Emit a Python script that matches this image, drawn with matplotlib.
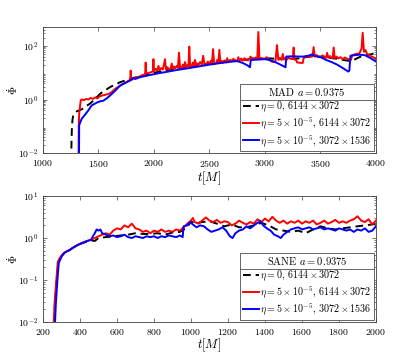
import matplotlib
matplotlib.use("Agg")
import matplotlib.pyplot as plt
from matplotlib.lines import Line2D

plt.rcParams['font.family'] = ['cmr10', 'DejaVu Serif']
plt.rcParams['mathtext.fontset'] = 'cm'
plt.rcParams['axes.formatter.use_mathtext'] = True
plt.rcParams['axes.unicode_minus'] = False

# ---- MAD a=0.9375 ----
mad_t_black = [1254, 1257, 1261, 1266, 1273, 1290, 1303, 1330, 1363, 1393, 1423, 1453, 1483, 1513,
               1543, 1574, 1604, 1650, 1694, 1740, 1784, 1850, 1920, 2000, 2100, 2200, 2300, 2400,
               2500, 2600, 2700, 2800, 2900, 3000, 3100, 3200, 3300, 3400, 3500, 3600, 3650, 3700,
               3750, 3800, 3850, 3900, 3950, 3980, 4000]
mad_v_black = [0.005, 0.03, 0.1, 0.18, 0.26, 0.33, 0.36, 0.4, 0.46, 0.58, 0.7, 0.9, 1.2, 1.6,
               2.0, 2.4, 2.9, 3.6, 4.4, 5.1, 5.8, 7.0, 8.5, 10, 12, 14.5, 17, 19.5,
               22, 25, 28, 30, 33, 35, 33, 32, 34, 40, 40, 35, 33, 30,
               28, 30, 38, 45, 48, 52, 60]

mad_t_red = [1320, 1322, 1326, 1330, 1340, 1350, 1370, 1390, 1410, 1430, 1450, 1470, 1490, 1510,
             1530, 1560, 1590, 1620, 1650, 1680, 1710, 1740, 1770, 1785, 1790, 1795, 1820, 1850,
             1880, 1910, 1920, 1925, 1930, 1960, 1990, 1995,
             2000, 2015, 2030, 2040, 2050, 2065, 2080, 2099, 2108, 2120, 2135, 2150, 2160, 2170,
             2180, 2190, 2205, 2215, 2225, 2235, 2250, 2260, 2270, 2280, 2290, 2300, 2310, 2318,
             2326, 2340, 2350, 2360, 2370, 2380, 2390, 2400, 2415, 2430, 2443, 2455, 2470, 2485,
             2500, 2512, 2522, 2532, 2542, 2560, 2570, 2580, 2589, 2598, 2610, 2620, 2635, 2650,
             2660, 2670, 2685, 2700, 2715, 2730, 2750, 2760, 2770, 2785, 2800, 2815, 2830, 2850,
             2870, 2880, 2890, 2900, 2915, 2930, 2940, 2950, 2960,
             3000, 3015, 3030, 3060, 3080, 3095, 3108, 3120, 3135, 3150, 3160, 3170, 3185, 3200,
             3215, 3230, 3250, 3258, 3266, 3280, 3290, 3340, 3348, 3370, 3400, 3415, 3428, 3438,
             3448, 3465, 3480, 3500, 3520, 3550, 3560, 3570, 3585, 3600, 3610, 3619, 3628, 3645,
             3660, 3680, 3700, 3720, 3750, 3775, 3785, 3820, 3850, 3870, 3880, 3892, 3905, 3920,
             3950, 3975, 4000]
mad_v_red = [0.005, 0.1, 0.3, 0.4, 0.95, 1.0, 0.95, 1.05, 1.0, 1.15, 1.05, 1.2, 1.1, 1.3,
             1.4, 1.5, 1.6, 1.9, 2.5, 3.0, 3.6, 4.2, 5.0, 5.3, 12, 5.5, 6.2, 6.8,
             7.5, 8.5, 9.0, 24, 9.2, 10, 11, 32,
             11.5, 14, 12, 18, 12.5, 15, 13, 32, 13, 16, 13.5, 14, 22, 14,
             17, 14.5, 18, 15, 56, 15.5, 15, 20, 16, 25, 16, 19, 17, 94,
             17, 18, 24, 18, 30, 18.5, 22, 19, 25, 20, 43, 20, 20.5, 26,
             21, 28, 22, 76, 22, 22.5, 30, 23, 71, 23, 28, 23, 29, 24,
             35, 24.5, 30, 26, 33, 27, 27, 38, 27.5, 34, 28, 35, 29, 29,
             40, 30, 36, 31, 37, 32, 330, 36, 35,
             33, 38, 32, 26, 25, 28, 107, 30, 36, 30, 50, 31, 36, 31,
             38, 33, 32, 87, 31, 30, 24, 23, 35, 42, 38, 45, 40, 90,
             40, 46, 38, 38, 44, 36, 55, 36, 42, 35, 36, 87, 35, 40,
             34, 38, 32, 37, 32, 30, 45, 50, 52, 80, 310, 60, 70, 50,
             42, 38, 32]

mad_t_blue = [1324, 1326, 1348, 1378, 1408, 1438, 1483, 1513, 1543, 1574, 1604, 1649, 1694, 1754,
              1800, 1814, 1830, 1874, 1964, 2039, 2100, 2200, 2300, 2400, 2500, 2600, 2700, 2750,
              2800, 2840, 2865, 2872, 2950, 3000, 3050, 3100, 3150, 3185, 3192, 3250, 3300, 3350,
              3400, 3420, 3450, 3500, 3550, 3600, 3650, 3700, 3750, 3760, 3770, 3850, 3900, 3950,
              4000]
mad_v_blue = [0.005, 0.11, 0.19, 0.27, 0.39, 0.6, 0.76, 0.85, 0.9, 1.1, 1.4, 2.1, 3.3, 4.4,
              5.5, 6.5, 5.8, 6.8, 8.2, 9.5, 10.5, 12.5, 14.5, 17, 20, 23, 26, 27,
              23, 19, 16, 30, 31, 32, 29, 24, 19, 16, 40, 41, 40, 40,
              44, 48, 42, 38, 30, 25, 20, 15, 11, 12, 43, 47, 45, 35,
              26]

# ---- SANE a=0.9375 ----
sane_t_black = [257, 265, 275, 283, 290, 300, 315, 330, 345, 360, 380, 400, 420, 440, 460, 480,
                500, 540, 580, 620, 660, 700, 740, 780, 820, 860, 900, 940, 980, 1000, 1020, 1060,
                1100, 1140, 1180, 1220, 1260, 1300, 1340, 1380, 1420, 1460, 1500, 1540, 1580, 1620,
                1660, 1700, 1740, 1780, 1820, 1860, 1900, 1940, 1980, 2000]
sane_v_black = [0.005, 0.03, 0.1, 0.25, 0.3, 0.37, 0.44, 0.48, 0.52, 0.58, 0.65, 0.72, 0.78, 0.82, 0.88, 0.85,
                1.0, 1.05, 1.1, 1.15, 1.2, 1.3, 1.25, 1.25, 1.3, 1.2, 1.35, 1.4, 1.8, 2.5, 2.2, 2.4,
                2.5, 2.2, 1.9, 2.1, 1.8, 1.8, 2.0, 2.3, 2.0, 1.6, 1.5, 1.4, 1.5, 1.3,
                1.6, 1.9, 1.7, 1.6, 1.7, 1.8, 1.9, 2.0, 2.1, 2.2]

sane_t_red = [255, 263, 272, 280, 288, 300, 315, 330, 345, 360, 380, 400, 420, 440, 460, 480,
              500, 520, 540, 560, 580, 600, 620, 640, 660, 680, 700, 720, 740, 760, 780, 800,
              820, 840, 860, 880, 900, 920, 940, 960, 980, 1000, 1010, 1020, 1040, 1060, 1080, 1100,
              1120, 1140, 1160, 1180, 1200, 1220, 1240, 1260, 1280, 1300, 1320, 1340, 1360, 1380, 1400,
              1420, 1440, 1460, 1480, 1500, 1520, 1540, 1560, 1580, 1600, 1620, 1640, 1660, 1680,
              1700, 1720, 1740, 1760, 1780, 1800, 1820, 1840, 1860, 1880, 1900, 1920, 1940, 1960,
              1980, 2000]
sane_v_red = [0.005, 0.03, 0.1, 0.27, 0.32, 0.38, 0.45, 0.49, 0.52, 0.58, 0.66, 0.73, 0.8, 0.86, 0.92, 1.0,
              1.1, 1.2, 1.3, 1.2, 1.5, 1.7, 1.6, 2.0, 1.8, 2.2, 1.7, 1.6, 1.4, 1.5, 1.3, 1.5,
              1.4, 1.6, 1.4, 1.5, 1.4, 1.6, 1.5, 1.8, 2.2, 2.6, 3.0, 2.4, 2.2, 2.6, 3.1, 2.6,
              2.4, 2.7, 2.3, 2.5, 2.4, 2.0, 2.2, 2.6, 2.3, 2.1, 2.4, 2.2, 2.8, 2.4, 2.9,
              2.5, 3.2, 2.6, 2.3, 2.6, 2.2, 2.5, 2.3, 2.6, 2.2, 2.5, 2.3, 2.6, 2.1,
              2.3, 2.6, 2.2, 2.4, 2.7, 2.3, 2.5, 2.3, 2.6, 2.8, 3.3, 2.6, 2.4, 2.8,
              2.1, 2.6]

sane_t_blue = [262, 270, 278, 285, 292, 300, 315, 330, 345, 360, 380, 400, 420, 440, 460, 470,
               480, 490, 500, 510, 520, 540, 560, 580, 600, 620, 640, 660, 680, 700, 720, 740,
               760, 780, 800, 820, 840, 860, 880, 900, 920, 940, 955, 960, 980, 995, 1010, 1030,
               1050, 1070, 1090, 1110, 1130, 1150, 1170, 1190, 1210, 1225, 1240, 1260, 1280, 1300,
               1320, 1340, 1360, 1375, 1390, 1410, 1430, 1450, 1470, 1485, 1500, 1520, 1540, 1560,
               1580, 1600, 1620, 1640, 1660, 1680, 1700, 1720, 1740, 1760, 1780, 1800, 1820, 1840,
               1860, 1880, 1900, 1920, 1940, 1960, 1980, 2000]
sane_v_blue = [0.005, 0.03, 0.1, 0.25, 0.3, 0.36, 0.44, 0.48, 0.52, 0.58, 0.65, 0.72, 0.78, 0.85, 0.9, 1.1,
               1.3, 1.6, 1.5, 1.6, 1.3, 1.2, 1.1, 1.15, 1.05, 1.1, 1.2, 1.05, 1.0, 1.1, 1.05, 1.0,
               1.1, 1.05, 1.1, 1.0, 1.1, 1.05, 1.15, 1.1, 1.05, 1.15, 1.05, 1.9, 2.0, 2.4, 2.1, 1.8,
               2.0, 1.9, 1.6, 1.4, 1.5, 1.6, 1.8, 1.5, 1.1, 1.0, 1.3, 1.5, 1.6, 1.9,
               1.7, 2.0, 2.3, 2.5, 2.0, 1.7, 1.5, 1.2, 1.1, 1.0, 1.2, 1.4, 1.6, 1.7,
               1.8, 1.6, 1.7, 1.8, 1.6, 1.7, 1.8, 1.6, 1.7, 1.6, 1.5, 1.7, 1.6, 1.5,
               1.6, 1.4, 1.6, 1.5, 1.7, 1.4, 1.5, 1.9]

labels = [r'$\eta=0$, $6144\times3072$',
          r'$\eta=5\times10^{-5}$, $6144\times3072$',
          r'$\eta=5\times10^{-5}$, $3072\times1536$']

fig = plt.figure(figsize=(4.15, 3.62), dpi=100)
ax1 = fig.add_axes([0.1036, 0.577, 0.8024, 0.348])
ax2 = fig.add_axes([0.1036, 0.1105, 0.8024, 0.348])


def draw_panel(ax, tb, vb, tr, vr, tu, vu, xlim, ylim, title):
    ax.plot(tb, vb, color='k', ls='--', lw=1.4, dashes=(4, 2.5), label=labels[0])
    ax.plot(tr, vr, color='r', lw=1.4, label=labels[1])
    ax.plot(tu, vu, color='b', lw=1.4, label=labels[2])
    ax.set_yscale('log')
    ax.set_xlim(*xlim)
    ax.set_ylim(*ylim)
    ax.tick_params(which='both', direction='in', top=True, right=True, labelsize=7,
                   color='0.25', width=0.5)
    ax.tick_params(which='major', length=3)
    ax.tick_params(which='minor', length=1.6)
    for s in ax.spines.values():
        s.set_linewidth(0.6)
        s.set_color('0.25')
    ax.set_xlabel(r'$t[M]$', fontsize=9, labelpad=0)
    ax.set_ylabel(r'$\dot{\Phi}$', fontsize=8)
    ax.yaxis.set_label_coords(-0.07, 0.5)
    leg = ax.legend(loc='lower right', fontsize=7.2, title=title, title_fontsize=7.6,
                    fancybox=False, framealpha=1, edgecolor='0.3', borderaxespad=0.2,
                    handlelength=1.6, handletextpad=0.15, labelspacing=0.15,
                    borderpad=0.25)
    leg.get_frame().set_linewidth(0.6)
    return leg


leg1 = draw_panel(ax1, mad_t_black, mad_v_black, mad_t_red, mad_v_red, mad_t_blue, mad_v_blue,
                  (1000, 4000), (1e-2, 500), r'MAD $a=0.9375$')
ax1.set_yticks([1e-2, 1e0, 1e2])
leg2 = draw_panel(ax2, sane_t_black, sane_v_black, sane_t_red, sane_v_red, sane_t_blue, sane_v_blue,
                  (200, 2000), (1e-2, 10), r'SANE $a=0.9375$')
ax2.set_yticks([1e-2, 1e-1, 1e0, 1e1])

# separator line between legend title and entries
fig.canvas.draw()
inv = fig.transFigure.inverted()
for leg in (leg1, leg2):
    fb = leg.get_frame().get_window_extent()
    tb = leg.get_title().get_window_extent()
    y = tb.y0 - 1.5
    (x0, y0), (x1, _) = inv.transform([(fb.x0, y), (fb.x1, y)])
    fig.add_artist(Line2D([x0, x1], [y0, y0], color='0.3', lw=0.6))

fig.savefig('out.png', dpi=100)
